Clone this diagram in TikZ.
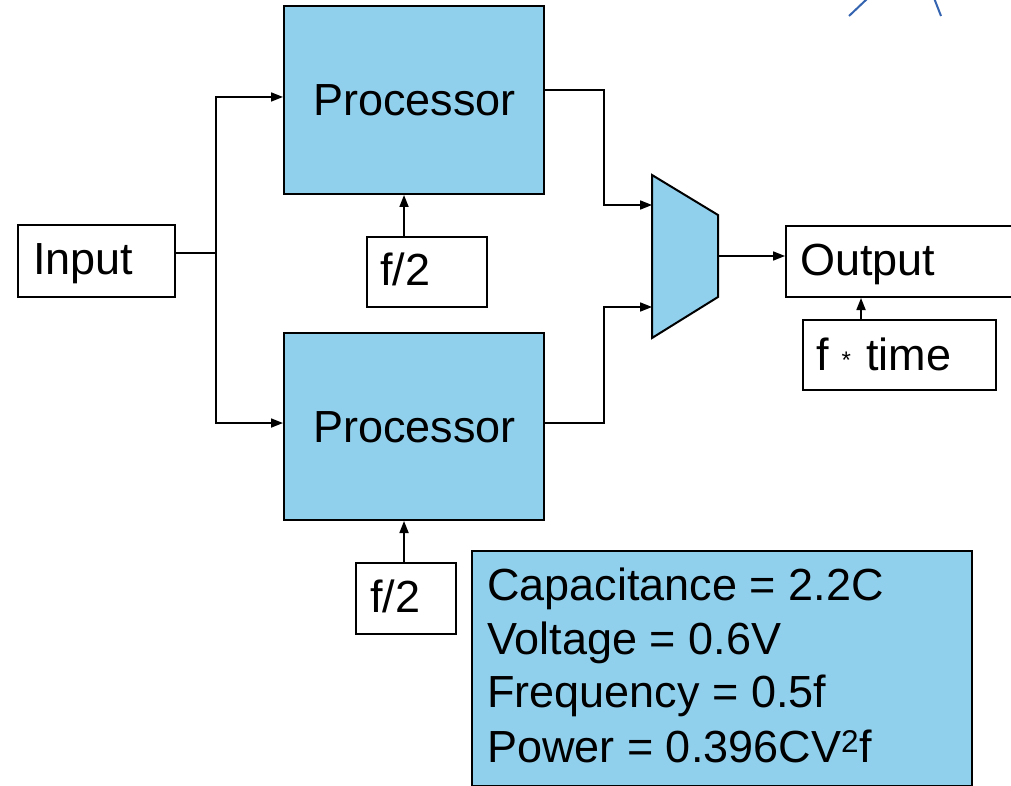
\documentclass[tikz,border=0pt]{standalone}
\usepackage{fontspec}
\setmainfont{Liberation Sans}
\usetikzlibrary{arrows.meta}
\definecolor{procblue}{RGB}{145,208,237}
\definecolor{penblue}{RGB}{52,99,176}
\begin{document}
\begin{tikzpicture}[x=1pt,y=-1pt,
  box/.style={draw=black,line width=2pt,inner sep=0pt,anchor=north west},
  pbox/.style={box,fill=procblue},
  lbl/.style={inner sep=0pt,anchor=base west,font=\fontsize{45}{54}\selectfont},
  wire/.style={line width=1.7pt},
  arr/.style={wire,-{Triangle[length=12pt,width=9pt]}}]
\path[use as bounding box,clip] (0,0) rectangle (1011,786);
% boxes
\node[box,minimum width=157pt,minimum height=72pt] (input) at (17,224) {};
\node[pbox,minimum width=260pt,minimum height=188pt] (proc1) at (283,5) {};
\node[pbox,minimum width=260pt,minimum height=187pt] (proc2) at (283,332) {};
\node[box,minimum width=120pt,minimum height=70pt] (f2a) at (366,236) {};
\node[box,minimum width=100pt,minimum height=71pt] (f2b) at (355,562) {};
\node[box,minimum width=260pt,minimum height=71pt] (out) at (785,225) {};
\node[box,minimum width=193pt,minimum height=70pt] (ftime) at (802,319) {};
\node[pbox,minimum width=500pt,minimum height=235pt] (info) at (471,550) {};
% multiplexer
\draw[line width=2pt,fill=procblue] (652,175) -- (718,215) -- (718,297) -- (652,338) -- cycle;
\coordinate (muxA) at (652,205);
\coordinate (muxB) at (652,307);
\coordinate (muxO) at (718,256);
% labels
\node[lbl] (tin) at (33,274) {Input};
\node[lbl] (tp1) at (313,116) {Processor};
\node[lbl] (tp2) at (313,442) {Processor};
\node[lbl] (tf2a) at (380,285) {f/2};
\node[lbl] (tf2b) at (370,612) {f/2};
\node[lbl] (tout) at (800,275) {Output};
\node[lbl] (tft) at (816,370) {f\hspace{13pt}\raisebox{2pt}{\fontsize{24}{24}\selectfont *}\hspace{15pt}time};
\node[lbl] (i1) at (487,600) {Capacitance = 2.2C};
\node[lbl] (i2) at (487,654) {Voltage = 0.6V};
\node[lbl] (i3) at (487,707) {Frequency = 0.5f};
\node[lbl] (i4) at (487,762) {Power = 0.396CV\textsuperscript{2}f};
% connectors
\coordinate (j) at (216,253);
\coordinate (jt) at (216,97);
\coordinate (jb) at (216,423);
\coordinate (r1) at (604,90);
\coordinate (r2) at (604,423);
\draw[wire] (input.east |- j) -- (j);
\draw[arr] (j) |- (proc1.west |- jt);
\draw[arr] (j) |- (proc2.west |- jb);
\draw[arr] (proc1.east |- r1) -- (r1) |- (muxA);
\draw[arr] (proc2.east |- r2) -- (r2) |- (muxB);
\draw[arr] (muxO) -- (out.west |- muxO);
\draw[arr] (f2a.north -| 404,0) -- (proc1.south -| 404,0);
\draw[arr] (f2b.north -| 404,0) -- (proc2.south -| 404,0);
\draw[arr] (ftime.north -| 861,0) -- (out.south -| 861,0);
% pen strokes at top right
\draw[penblue,line width=2pt] (849,16) -- (868,-2);
\draw[penblue,line width=2pt] (934,-2) -- (941,16);
\end{tikzpicture}
\end{document}
